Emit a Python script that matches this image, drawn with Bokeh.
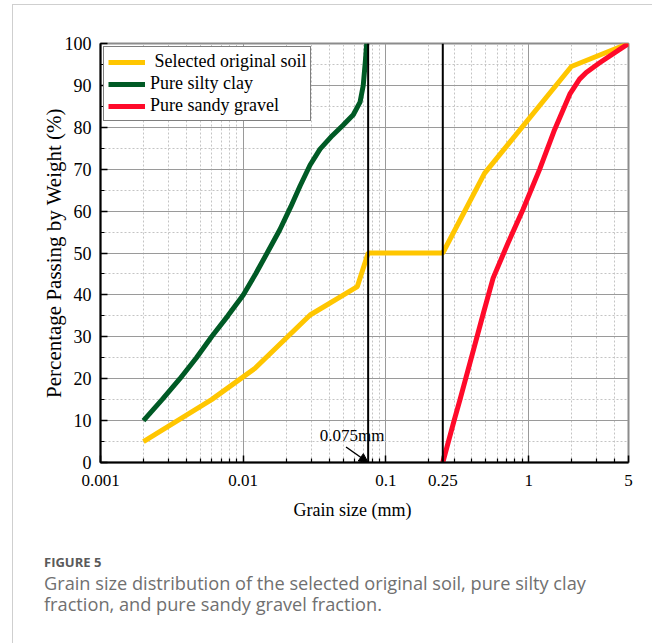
from bokeh.plotting import figure
from bokeh.layouts import column
from bokeh.models import (FixedTicker, SingleIntervalTicker, CustomJSTickFormatter,
                          Span, Label, Arrow, NormalHead, Div, Title, InlineStyleSheet)
from bokeh.embed import file_html
from bokeh.resources import INLINE

# Grain size (mm) vs percentage passing by weight (%)
soil_size = [0.002, 0.006, 0.0121, 0.0294, 0.063, 0.075, 0.25, 0.49, 1.99, 5]
soil_pass = [5, 15, 22.5, 35.2, 42, 50, 50, 69, 94.5, 100]

clay_size = [0.002, 0.0027, 0.0036, 0.0047, 0.006, 0.0078, 0.01, 0.0122, 0.0147,
             0.018, 0.0215, 0.025, 0.0294, 0.0345, 0.042, 0.05, 0.059, 0.0658,
             0.0693, 0.0716, 0.0733]
clay_pass = [10, 15, 20, 25, 30, 35, 40, 45, 50, 55.5, 61, 66, 71, 74.8, 78, 80.5,
             83, 86, 90, 95.5, 100]

gravel_size = [0.25, 0.3, 0.33, 0.4, 0.48, 0.563, 0.716, 0.912, 1.19, 1.52, 1.94,
               2.27, 2.53, 3.14, 5]
gravel_pass = [0, 10, 15, 25.5, 35.5, 44, 52.4, 60.4, 69.9, 79.5, 87.9, 91.5, 93.1,
               95.4, 100]

series_names = [" Selected original soil", "Pure silty clay", "Pure sandy gravel"]
series_colors = ["#FFC600", "#005A25", "#FF0A2A"]

# sieve boundaries marked with vertical lines
boundary_sizes = [0.075, 0.25]
boundary_label = "0.075mm"

x_tick_values = [0.001, 0.01, 0.1, 0.25, 1, 5]
x_minor_values = [m * 10.0 ** e for e in range(-3, 1) for m in range(2, 10) if m * 10.0 ** e < 5]

x_title = "Grain size (mm)"
y_title = "Percentage Passing by Weight (%)"
fig_label = "FIGURE 5"
caption_text = ("Grain size distribution of the selected original soil, pure silty clay "
                "fraction, and pure sandy gravel fraction.")

SERIF = "Liberation Serif"

p = figure(width=652, height=530, x_axis_type="log",
           x_range=(0.001, 5), y_range=(0, 100),
           output_backend="svg", toolbar_location=None,
           min_border_left=100, min_border_right=24,
           min_border_top=43, min_border_bottom=68,
           background_fill_color="white", border_fill_color="white")
p.margin = 0

# frame: black left/bottom axes, grey top/right edges
p.outline_line_color = "#8c8c8c"
p.outline_line_width = 2

p.xaxis.ticker = FixedTicker(ticks=x_tick_values, minor_ticks=x_minor_values)
p.xaxis.formatter = CustomJSTickFormatter(code="return tick.toString()")
p.yaxis.ticker = SingleIntervalTicker(interval=10, num_minor_ticks=2)

for ax in (p.xaxis[0], p.yaxis[0]):
    ax.axis_line_color = "black"
    ax.axis_line_width = 2
    ax.major_tick_in = 7
    ax.major_tick_out = 0
    ax.minor_tick_in = 4
    ax.minor_tick_out = 0
    ax.major_tick_line_width = 1.5
    ax.minor_tick_line_width = 1.2
    ax.major_label_text_font = SERIF
    ax.major_label_text_color = "black"
    ax.axis_label_text_font = SERIF
    ax.axis_label_text_font_style = "normal"
    ax.axis_label_text_color = "black"

p.xaxis.major_label_text_font_size = "17px"
p.yaxis.major_label_text_font_size = "18px"
p.yaxis.axis_label = y_title
p.yaxis.axis_label_text_font_size = "21px"
p.xaxis.major_label_standoff = 12
p.yaxis.major_label_standoff = 9
p.yaxis.axis_label_standoff = -4

# x-axis title placed under the tick labels
p.add_layout(Title(text=x_title, align="left", offset=193, standoff=19,
                   text_font=SERIF, text_font_size="18px", text_font_style="normal",
                   text_color="black"), "below")

for g in (p.xgrid[0], p.ygrid[0]):
    g.grid_line_color = "#9a9a9a"
    g.grid_line_width = 1
    g.minor_grid_line_color = "#c4c4c4"
    g.minor_grid_line_dash = "2 2"
    g.minor_grid_line_width = 1
p.xgrid.ticker = p.xaxis.ticker
p.ygrid.ticker = p.yaxis.ticker

p.line(soil_size, soil_pass, line_color=series_colors[0], line_width=5,
       legend_label=series_names[0])
p.line(clay_size, clay_pass, line_color=series_colors[1], line_width=5,
       legend_label=series_names[1])
p.line(gravel_size, gravel_pass, line_color=series_colors[2], line_width=5,
       legend_label=series_names[2])

for b in boundary_sizes:
    p.add_layout(Span(location=b, dimension="height", line_color="black", line_width=2))

# annotation pointing at the 0.075 mm sieve
p.add_layout(Arrow(x_start=0.0525, y_start=3.7, x_end=boundary_sizes[0], y_end=0,
                   line_color="black", line_width=1.5,
                   end=NormalHead(size=9, fill_color="black", line_color="black")))
p.add_layout(Label(x=boundary_sizes[0], y=0, x_offset=-16, y_offset=27,
                   text=boundary_label, text_align="center", text_baseline="middle",
                   text_font=SERIF, text_font_size="17px", text_color="black"))

lg = p.legend[0]
lg.location = "top_left"
lg.margin = 3
lg.padding = 4
lg.spacing = 1
lg.glyph_width = 37
lg.glyph_height = 20
lg.label_height = 20
lg.label_standoff = 5
lg.label_text_font = SERIF
lg.label_text_font_size = "18px"
lg.label_text_color = "black"
lg.border_line_color = "black"
lg.border_line_width = 1
lg.background_fill_color = "white"
lg.background_fill_alpha = 1

# caption block under the chart
caption_html = (
    '<div style="position:relative;width:652px;height:113px;font-family:\'Open Sans\',sans-serif;">'
    f'<div style="position:absolute;left:44px;top:25.5px;font-size:13px;line-height:13px;'
    f'font-weight:700;color:#5a5a5a;white-space:nowrap;">{fig_label}</div>'
    f'<div style="position:absolute;left:44px;top:42.5px;width:560px;font-size:18.2px;'
    f'line-height:21px;color:#707070;">{caption_text}</div>'
    '</div>'
)
caption = Div(text=caption_html, width=652, height=113, margin=0)

# light card border along the top and left
card_css = InlineStyleSheet(css="""
:host { position: relative; }
:host::after {
  content: ""; position: absolute; left: 12px; top: 4px; right: 0; bottom: 0;
  border-left: 1px solid #cfcfcf; border-top: 1px solid #cfcfcf;
  pointer-events: none; z-index: 10;
}
""")

layout = column(p, caption, spacing=0, margin=0, stylesheets=[card_css])

open("out.html", "w").write(file_html(layout, INLINE))
